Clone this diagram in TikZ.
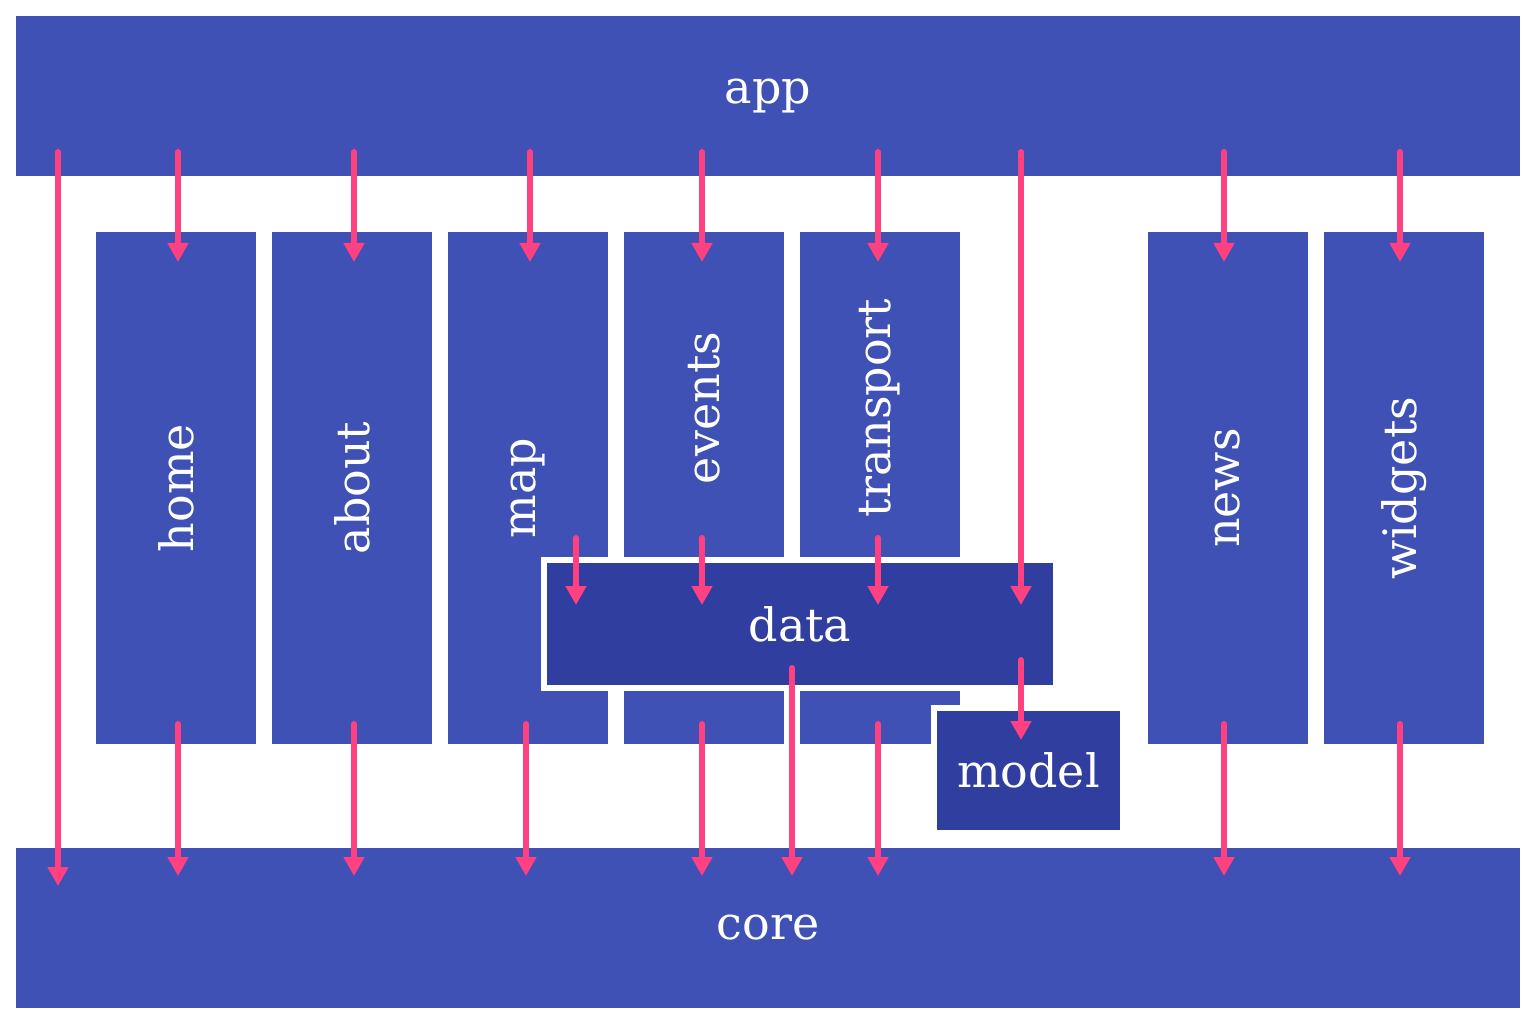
\documentclass[tikz,border=0pt]{standalone}
\usepackage{fontspec}
\setmainfont{DejaVu Serif}
\usetikzlibrary{arrows.meta,calc}
\definecolor{layer}{HTML}{3F51B5}
\definecolor{shared}{HTML}{303F9F}
\definecolor{dep}{HTML}{FF4081}

\begin{document}
\begin{tikzpicture}[
    x=1pt,y=1pt,
    every node/.style={font=\fontsize{23}{28}\selectfont,text=white,inner sep=0pt,outer sep=0pt},
    bar/.style={fill=layer,minimum width=752pt,minimum height=80pt},
    col/.style={fill=layer,minimum width=80pt,minimum height=256pt},
    coltext/.style={rotate=90},
    shbox/.style={fill=shared,draw=white,line width=3pt},
    link/.style={-{Triangle[length=9.5pt,width=10pt]},line width=3pt,dep,line cap=round}
]
\useasboundingbox (0,0) rectangle (768,512);

% Top and bottom layers
\node[bar] (app)  at (384,464) {app};
\node[bar] (core) at (384,48)  {core};

% Feature modules
\node[col] (home)      at (88,268)  {};
\node[col] (about)     at (176,268) {};
\node[col] (map)       at (264,268) {};
\node[col] (events)    at (352,268) {};
\node[col] (transport) at (440,268) {};
\node[col] (news)      at (614,268) {};
\node[col] (widgets)   at (702,268) {};

\node[coltext] (homeT)      at (home)      {home};
\node[coltext] (aboutT)     at (about)     {about};
\node[coltext] (mapT)       at (map)       {map};
\node[coltext] (eventsT)    at (352,308)   {events};
\node[coltext] (transportT) at (440,308)   {transport};
\node[coltext] (newsT)      at (news)      {news};
\node[coltext] (widgetsT)   at (widgets)   {widgets};

% Shared modules
\node[shbox,minimum width=256pt,minimum height=64pt]   (data)  at (400,200)    {data};
\node[shbox,minimum width=94.5pt,minimum height=62.5pt] (model) at (514.25,126.75) {model};

% app -> modules
\draw[link] ([xshift=21pt,yshift=12pt]app.south west) -- ([xshift=21pt,yshift=-19pt]core.north west);
\draw[link] ([xshift=1pt,yshift=12pt]home.north |- app.south)      -- ([xshift=1pt,yshift=-15pt]home.north);
\draw[link] ([xshift=1pt,yshift=12pt]about.north |- app.south)     -- ([xshift=1pt,yshift=-15pt]about.north);
\draw[link] ([xshift=1pt,yshift=12pt]map.north |- app.south)       -- ([xshift=1pt,yshift=-15pt]map.north);
\draw[link] ([xshift=-1pt,yshift=12pt]events.north |- app.south)   -- ([xshift=-1pt,yshift=-15pt]events.north);
\draw[link] ([xshift=-1pt,yshift=12pt]transport.north |- app.south) -- ([xshift=-1pt,yshift=-15pt]transport.north);
\draw[link] ([xshift=-2pt,yshift=12pt]news.north |- app.south)     -- ([xshift=-2pt,yshift=-15pt]news.north);
\draw[link] ([xshift=-2pt,yshift=12pt]widgets.north |- app.south)  -- ([xshift=-2pt,yshift=-15pt]widgets.north);
\draw[link] ([xshift=-17.5pt,yshift=12pt]data.north east |- app.south) -- ([xshift=-17.5pt,yshift=-22.5pt]data.north east);

% modules -> data
\draw[link] ([xshift=16pt,yshift=11pt]data.north west) -- ([xshift=16pt,yshift=-22.5pt]data.north west);
\draw[link] ([xshift=-1pt,yshift=11pt]data.north -| events)    -- ([xshift=-1pt,yshift=-22.5pt]data.north -| events);
\draw[link] ([xshift=-1pt,yshift=11pt]data.north -| transport) -- ([xshift=-1pt,yshift=-22.5pt]data.north -| transport);

% data -> model
\draw[link] ([xshift=-17.5pt,yshift=14pt]data.south east) -- ([xshift=-17.5pt,yshift=-16pt]data.east |- model.north);

% modules -> core
\draw[link] ([xshift=1pt,yshift=10pt]home.south)       -- ([xshift=1pt,yshift=-14pt]core.north -| home);
\draw[link] ([xshift=1pt,yshift=10pt]about.south)      -- ([xshift=1pt,yshift=-14pt]core.north -| about);
\draw[link] ([xshift=-1pt,yshift=10pt]map.south)       -- ([xshift=-1pt,yshift=-14pt]core.north -| map);
\draw[link] ([xshift=-1pt,yshift=10pt]events.south)    -- ([xshift=-1pt,yshift=-14pt]core.north -| events);
\draw[link] ([xshift=-1pt,yshift=10pt]transport.south) -- ([xshift=-1pt,yshift=-14pt]core.north -| transport);
\draw[link] ([xshift=-2pt,yshift=10pt]news.south)      -- ([xshift=-2pt,yshift=-14pt]core.north -| news);
\draw[link] ([xshift=-2pt,yshift=10pt]widgets.south)   -- ([xshift=-2pt,yshift=-14pt]core.north -| widgets);
\draw[link] ([xshift=-4pt,yshift=10pt]data.south) -- ([xshift=-4pt,yshift=-14pt]core.north -| data.south);
\end{tikzpicture}
\end{document}
